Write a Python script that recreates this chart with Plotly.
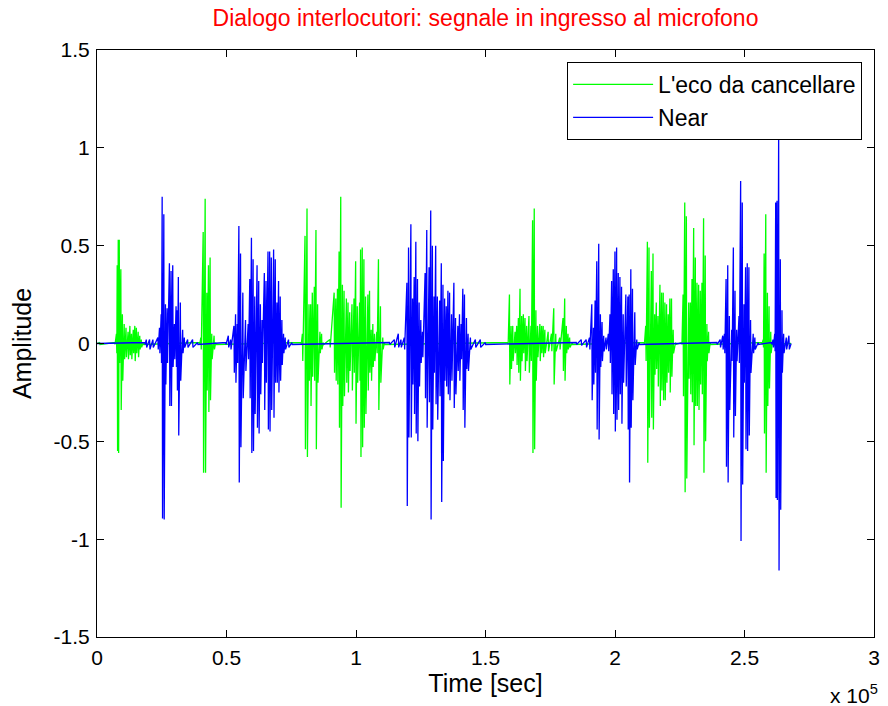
import plotly.graph_objects as go

# ---------------- data ----------------
# sample index, positive peak, negative trough of each visible oscillation
echo_t = [1000, 6800, 7500, 7800, 8200, 8600, 9200, 9800, 10500, 11200, 12000, 12700, 13300, 14000, 14600,
          15200, 15900, 16500, 17100, 17800,
          39500, 40100, 41000, 41760, 42400, 43040, 43670, 44300, 45200, 45800,
          78700, 79300, 80320, 81090, 81850, 82490, 83130, 83900, 84540, 85170, 86070, 86710, 87350,
          89900, 91560, 92200, 92840, 93470, 94110, 94750, 95390, 96280, 96920, 97560, 98450,
          99220, 99860, 100500, 101390, 101770, 102410, 103050, 103690, 104590, 105220, 105860,
          106500, 107140, 108030, 108670, 109440, 110330, 110970,
          158600, 159240, 159880, 160520, 161410, 162050, 162690, 163330, 163970, 164610, 165250, 165880,
          166780, 167540, 168180, 168820, 169460, 170100, 170990, 171630, 172270, 172910, 174180,
          175460, 176350, 177120, 178650, 179930, 180570, 181210, 181850, 182480, 183500,
          211200, 211860, 212500, 213130, 214030, 214670, 215300, 215940, 216580, 217350, 217990, 218620,
          219260, 219900, 220540, 221180, 221820, 222460, 223350,
          225700, 226290, 226930, 227560, 228460, 229100, 229730, 230370, 231010, 231650, 232290, 232930,
          233570, 234200, 234840, 235480, 236120, 236760,
          256600, 257190, 257570, 258210, 258850, 259490, 260130, 260770]
echo_pk = [0.005, 0.005, 0.05, 0.40, 0.53, 0.53, 0.38, 0.15, 0.10, 0.08, 0.06, 0.09, 0.05, 0.07, 0.09,
           0.08, 0.06, 0.04, 0.02, 0.005,
           0.005, 0.03, 0.57, 0.74, 0.26, 0.40, 0.44, 0.05, 0.04, 0.005,
           0.005, 0.05, 0.55, 0.69, 0.20, 0.20, 0.26, 0.29, 0.58, 0.20, 0.06, 0.05, 0.005,
           0.02, 0.26, 0.23, 0.28, 0.47, 0.75, 0.30, 0.27, 0.23, 0.21, 0.16, 0.20,
           0.23, 0.42, 0.19, 0.21, 0.48, 0.49, 0.43, 0.24, 0.25, 0.27, 0.07,
           0.10, 0.05, 0.06, 0.43, 0.19, 0.03, 0.005,
           0.005, 0.25, 0.09, 0.09, 0.06, 0.09, 0.13, 0.28, 0.14, 0.15, 0.13, 0.09,
           0.14, 0.09, 0.63, 0.69, 0.17, 0.09, 0.10, 0.09, 0.09, 0.07, 0.06,
           0.05, 0.18, 0.05, 0.03, 0.13, 0.23, 0.09, 0.05, 0.03, 0.005,
           0.005, 0.09, 0.52, 0.49, 0.37, 0.46, 0.15, 0.21, 0.14, 0.30, 0.26, 0.26,
           0.21, 0.20, 0.15, 0.23, 0.23, 0.07, 0.005,
           0.005, 0.25, 0.72, 0.65, 0.21, 0.21, 0.33, 0.59, 0.44, 0.31, 0.30, 0.27,
           0.31, 0.64, 0.45, 0.10, 0.06, 0.005,
           0.005, 0.02, 0.46, 0.66, 0.26, 0.19, 0.06, 0.005]
echo_tr = [-0.005, -0.005, -0.05, -0.55, -0.56, -0.10, -0.34, -0.19, -0.08, -0.07, -0.08, -0.06, -0.08, -0.05, -0.09,
           -0.05, -0.07, -0.03, -0.02, -0.005,
           -0.005, -0.03, -0.66, -0.66, -0.24, -0.35, -0.29, -0.08, -0.03, -0.005,
           -0.005, -0.09, -0.54, -0.58, -0.19, -0.32, -0.17, -0.19, -0.54, -0.20, -0.05, -0.03, -0.005,
           -0.02, -0.15, -0.19, -0.21, -0.43, -0.84, -0.32, -0.27, -0.20, -0.25, -0.14, -0.24,
           -0.15, -0.41, -0.20, -0.19, -0.58, -0.53, -0.43, -0.36, -0.24, -0.15, -0.19,
           -0.12, -0.09, -0.05, -0.34, -0.20, -0.03, -0.005,
           -0.005, -0.21, -0.13, -0.09, -0.05, -0.11, -0.15, -0.19, -0.09, -0.05, -0.14, -0.09,
           -0.15, -0.09, -0.56, -0.54, -0.19, -0.07, -0.09, -0.05, -0.07, -0.05, -0.04,
           -0.04, -0.21, -0.04, -0.03, -0.14, -0.19, -0.05, -0.03, -0.02, -0.005,
           -0.005, -0.09, -0.61, -0.43, -0.38, -0.44, -0.16, -0.13, -0.22, -0.32, -0.24, -0.29,
           -0.29, -0.20, -0.15, -0.25, -0.17, -0.05, -0.005,
           -0.005, -0.27, -0.76, -0.69, -0.18, -0.26, -0.30, -0.52, -0.32, -0.32, -0.34, -0.21,
           -0.26, -0.66, -0.50, -0.09, -0.05, -0.005,
           -0.005, -0.02, -0.46, -0.66, -0.32, -0.23, -0.05, -0.005]

near_t = [18400, 19030, 20300, 21580, 23500, 24130, 24770, 25160, 25800, 26430, 27070, 27960, 28600,
          29240, 29880, 30520, 30900, 31410, 32180, 33070, 33710, 34990, 36900, 38820,
          49680, 50700, 51600, 52870, 53500, 54140, 54780, 55420, 56310, 57340, 58360, 58990,
          59630, 60270, 60910, 61800, 62440, 63080, 63720, 64610, 65250, 66020, 66660, 67300,
          68190, 68830, 69470, 70100, 70740, 71380, 72020, 72660, 73940, 75210,
          112890, 114800, 116330, 117350, 118630, 119650, 120290, 121190, 121830, 122460, 123100,
          123740, 124380, 125020, 125660, 126680, 127320, 128210, 128850, 129490, 130130, 130770,
          131400, 132300, 132940, 133570, 134210, 134850, 135490, 136130, 136890, 137790, 138430,
          139320, 139960, 140600, 141240, 141880, 142640, 143280, 144170, 146090, 148000, 149920,
          185040, 186950, 188870, 190150, 191040, 191680, 192320, 192960, 193720, 194360, 195000,
          195640, 196530, 197420, 198060, 198700, 199340, 199980, 200620, 201260, 201900, 202530,
          203170, 204190, 204960, 205470, 206110, 206750, 207640, 208410, 209300,
          239310, 240590, 241610, 242250, 242890, 243530, 244160, 245060, 245700, 246340, 246970,
          247870, 248510, 249140, 249780, 250420, 251060, 251700, 252340, 253360, 254000, 255280,
          260400, 261020, 261660, 262040, 262550, 263190, 263830, 264470, 265110, 266130, 267150]
near_pk = [0.005, 0.02, 0.02, 0.02, 0.03, 0.08, 0.15, 0.75, 0.66, 0.20, 0.18, 0.41, 0.37,
           0.40, 0.10, 0.19, 0.17, 0.34, 0.21, 0.07, 0.03, 0.02, 0.02, 0.005,
           0.005, 0.04, 0.02, 0.09, 0.15, 0.10, 0.60, 0.46, 0.26, 0.12, 0.10, 0.33,
           0.54, 0.43, 0.24, 0.40, 0.32, 0.20, 0.12, 0.36, 0.32, 0.47, 0.47, 0.44,
           0.48, 0.43, 0.21, 0.32, 0.24, 0.12, 0.05, 0.03, 0.02, 0.005,
           0.005, 0.02, 0.05, 0.02, 0.03, 0.31, 0.49, 0.61, 0.23, 0.34, 0.52,
           0.33, 0.21, 0.12, 0.06, 0.36, 0.58, 0.39, 0.68, 0.50, 0.24, 0.50,
           0.24, 0.22, 0.41, 0.30, 0.23, 0.19, 0.27, 0.26, 0.15, 0.31, 0.13,
           0.09, 0.15, 0.10, 0.28, 0.25, 0.13, 0.05, 0.03, 0.02, 0.02, 0.005,
           0.005, 0.02, 0.02, 0.03, 0.20, 0.08, 0.22, 0.42, 0.51, 0.15, 0.11,
           0.04, 0.03, 0.05, 0.15, 0.32, 0.38, 0.47, 0.49, 0.36, 0.34, 0.29,
           0.15, 0.25, 0.24, 0.25, 0.38, 0.28, 0.16, 0.02, 0.005,
           0.005, 0.02, 0.04, 0.05, 0.33, 0.40, 0.14, 0.07, 0.49, 0.27, 0.07,
           0.14, 0.83, 0.72, 0.20, 0.39, 0.41, 0.39, 0.12, 0.05, 0.03, 0.005,
           0.005, 0.02, 0.05, 0.72, 0.73, 1.07, 0.43, 0.17, 0.05, 0.03, 0.04]
near_tr = [-0.005, -0.02, -0.03, -0.02, -0.03, -0.05, -0.10, -0.895, -0.90, -0.21, -0.10, -0.32, -0.32,
           -0.12, -0.08, -0.12, -0.24, -0.47, -0.19, -0.05, -0.02, -0.02, -0.02, -0.005,
           -0.005, -0.02, -0.03, -0.15, -0.20, -0.10, -0.71, -0.53, -0.28, -0.14, -0.08, -0.28,
           -0.56, -0.55, -0.36, -0.43, -0.46, -0.26, -0.10, -0.34, -0.20, -0.44, -0.45, -0.34,
           -0.38, -0.20, -0.20, -0.25, -0.19, -0.11, -0.05, -0.03, -0.02, -0.005,
           -0.005, -0.02, -0.02, -0.02, -0.03, -0.83, -0.48, -0.48, -0.21, -0.36, -0.46,
           -0.50, -0.22, -0.10, -0.07, -0.28, -0.43, -0.30, -0.90, -0.44, -0.15, -0.31,
           -0.39, -0.27, -0.81, -0.60, -0.19, -0.22, -0.26, -0.29, -0.19, -0.33, -0.26,
           -0.14, -0.19, -0.08, -0.34, -0.43, -0.13, -0.14, -0.03, -0.02, -0.02, -0.005,
           -0.005, -0.01, -0.02, -0.03, -0.29, -0.21, -0.15, -0.44, -0.49, -0.12, -0.09,
           -0.04, -0.03, -0.04, -0.10, -0.26, -0.36, -0.45, -0.39, -0.34, -0.26, -0.41,
           -0.20, -0.22, -0.44, -0.71, -0.43, -0.29, -0.11, -0.03, -0.005,
           -0.005, -0.02, -0.03, -0.05, -0.63, -0.71, -0.34, -0.09, -0.48, -0.37, -0.09,
           -0.10, -1.01, -0.72, -0.20, -0.54, -0.55, -0.47, -0.15, -0.05, -0.03, -0.005,
           -0.005, -0.02, -0.04, -0.79, -0.80, -1.16, -0.85, -0.15, -0.05, -0.03, -0.03]

signal_end = 268000
x_tickvals = [0, 50000, 100000, 150000, 200000, 250000, 300000]
x_ticktext = ["0", "0.5", "1", "1.5", "2", "2.5", "3"]
y_tickvals = [-1.5, -1, -0.5, 0, 0.5, 1, 1.5]
y_ticktext = ["-1.5", "-1", "-0.5", "0", "0.5", "1", "1.5"]


def waveform(ts, pk, tr, half=150):
    xs, ys = [0], [0.0]
    for t, p, q in zip(ts, pk, tr):
        xs += [t, t + half]
        ys += [p, q]
    xs.append(signal_end)
    ys.append(0.0)
    return xs, ys


ex, ey = waveform(echo_t, echo_pk, echo_tr)
nx, ny = waveform(near_t, near_pk, near_tr)

FONT = "Liberation Sans, Arial, sans-serif"

fig = go.Figure()
fig.add_trace(go.Scatter(x=ex, y=ey, mode="lines", name="L'eco da cancellare",
                         line=dict(color="#00ff00", width=1.3)))
fig.add_trace(go.Scatter(x=nx, y=ny, mode="lines", name="Near",
                         line=dict(color="#0000ff", width=1.3)))

axis_common = dict(showgrid=False, zeroline=False, showline=True, linecolor="black",
                   linewidth=1, mirror="allticks", ticks="inside", ticklen=7,
                   tickcolor="black", tickfont=dict(family=FONT, size=21, color="black"))

fig.update_layout(
    width=888, height=706,
    margin=dict(l=97, r=8, t=50, b=69),
    paper_bgcolor="white", plot_bgcolor="white",
    font=dict(family=FONT, size=21, color="black"),
    title=dict(text="Dialogo interlocutori: segnale in ingresso al microfono",
               font=dict(family=FONT, size=23, color="#ff0000"),
               x=0.5, xref="paper", xanchor="center", y=0.975, yanchor="middle"),
    xaxis=dict(range=[0, 300000], tickvals=x_tickvals, ticktext=x_ticktext,
               title=dict(text="Time [sec]", standoff=4), ticklabelstandoff=2, **axis_common),
    yaxis=dict(range=[-1.5, 1.5], tickvals=y_tickvals, ticktext=y_ticktext,
               title=dict(text="Amplitude", standoff=14), ticklabelstandoff=2, **axis_common),
    legend=dict(x=0.9847, y=0.9796, xanchor="right", yanchor="top",
                bgcolor="white", bordercolor="black", borderwidth=1,
                font=dict(family=FONT, size=23), itemwidth=80, tracegroupgap=0),
    showlegend=True,
)

fig.add_annotation(text="x 10<sup>5</sup>", xref="paper", yref="paper", x=1.0, y=0,
                   xanchor="right", yanchor="top", yshift=-42, xshift=6, showarrow=False,
                   font=dict(family=FONT, size=21, color="black"))

fig.write_html("out.html")
